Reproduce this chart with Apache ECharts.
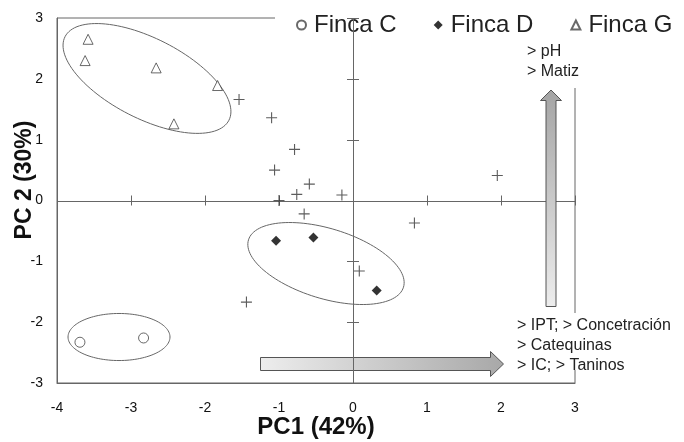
<!DOCTYPE html>
<html><head><meta charset="utf-8">
<script src="https://cdn.jsdelivr.net/npm/echarts@6/dist/echarts.min.js"></script>
<style>html,body{margin:0;padding:0;background:#fff}#c{width:684px;height:442px}</style>
</head><body><div id="c"></div>
<script>
// ---- data ----
const xTicks = [-4, -3, -2, -1, 0, 1, 2, 3];
const yTicks = [-3, -2, -1, 0, 1, 2, 3];
const seriesNames = ['Finca C', 'Finca D', 'Finca G'];
const fincaC = [[-3.69, -2.33], [-2.83, -2.26]];
const fincaD = [[-1.04, -0.66], [-0.535, -0.61], [0.32, -1.48]];
const fincaG = [[-3.58, 2.65], [-3.62, 2.30], [-2.66, 2.18], [-1.83, 1.89], [-2.42, 1.26]];
const otros = [[-1.54, 1.66], [-1.10, 1.36], [-0.79, 0.84], [-1.06, 0.50], [-0.59, 0.27],
  [-0.76, 0.10], [-1.00, 0.00], [-0.15, 0.09], [-0.66, -0.22], [1.95, 0.41],
  [0.83, -0.37], [0.085, -1.16], [-1.44, -1.67]];
// ellipses: centre x, centre y, semi-axis a, semi-axis b (x units), tilt (deg)
const ellipseG = [-2.784, 2.006, 1.243, 0.541, 27];
const ellipseD = [-0.365, -1.036, 1.095, 0.473, 17];
const ellipseC = [-3.162, -2.244, 0.689, 0.318, 0];
const xTitle = 'PC1 (42%)';
const yTitle = 'PC 2 (30%)';
const notesTop = ['> pH', '> Matiz'];
const notesBottom = ['> IPT; > Concetración', '> Catequinas', '> IC; > Taninos'];

const FONT = '"Liberation Sans", Arial, sans-serif';
const LINE = '#666';
const xMin = xTicks[0], xMax = xTicks[xTicks.length - 1];
const yMin = yTicks[0], yMax = yTicks[yTicks.length - 1];
const px = v => Math.round(v) + 0.5;

const chart = echarts.init(document.getElementById('c'));
chart.setOption({
  animation: false,
  grid: { left: 57, right: 109, top: 18, bottom: 59, show: true, borderColor: LINE, borderWidth: 1 },
  xAxis: {
    type: 'value', min: xMin, max: xMax, interval: 1,
    axisLine: { show: true, onZero: false, lineStyle: { color: LINE } },
    axisTick: { show: false }, splitLine: { show: false },
    axisLabel: { margin: 18, fontSize: 14, color: '#111', fontFamily: FONT }
  },
  yAxis: {
    type: 'value', min: yMin, max: yMax, interval: 1,
    axisLine: { show: true, onZero: false, lineStyle: { color: LINE } },
    axisTick: { show: false }, splitLine: { show: false },
    axisLabel: { margin: 14, fontSize: 14, color: '#111', fontFamily: FONT }
  },
  legend: {
    data: seriesNames, left: 275, top: 8, width: 400, padding: [5, 2, 5, 21],
    itemWidth: 9, itemHeight: 9, itemGap: 37, backgroundColor: '#fff',
    selectedMode: false,
    textStyle: { fontSize: 24, color: '#222', fontFamily: FONT, padding: [0, 0, 0, 3] }
  },
  series: [
    { // horizontal zero axis
      type: 'custom', z: 3, silent: true, data: [[xMin, 0, xMax, 0]],
      renderItem(p, api) {
        const a = api.coord([api.value(0), api.value(1)]);
        const b = api.coord([api.value(2), api.value(3)]);
        return { type: 'line', shape: { x1: a[0], y1: px(a[1]), x2: b[0], y2: px(b[1]) }, style: { stroke: LINE, lineWidth: 1 } };
      }
    },
    { // ticks on horizontal zero axis
      type: 'custom', z: 3, silent: true, data: xTicks.map(v => [v, 0]),
      renderItem(p, api) {
        const c = api.coord([api.value(0), api.value(1)]);
        return { type: 'line', shape: { x1: px(c[0]), y1: c[1] - 5, x2: px(c[0]), y2: c[1] + 5 }, style: { stroke: LINE, lineWidth: 1 } };
      }
    },
    { // vertical zero axis (drawn above legend and arrows)
      type: 'custom', z: 10, silent: true, data: [[0, yMin, 0, yMax]],
      renderItem(p, api) {
        const a = api.coord([api.value(0), api.value(1)]);
        const b = api.coord([api.value(2), api.value(3)]);
        return { type: 'line', shape: { x1: px(a[0]), y1: a[1], x2: px(b[0]), y2: b[1] }, style: { stroke: LINE, lineWidth: 1 } };
      }
    },
    { // ticks on vertical zero axis
      type: 'custom', z: 10, silent: true, data: yTicks.map(v => [0, v]),
      renderItem(p, api) {
        const c = api.coord([api.value(0), api.value(1)]);
        return { type: 'line', shape: { x1: c[0] - 6, y1: px(c[1]), x2: c[0] + 6, y2: px(c[1]) }, style: { stroke: LINE, lineWidth: 1 } };
      }
    },
    { // group ellipses
      type: 'custom', z: 1, silent: true, data: [ellipseG, ellipseD, ellipseC],
      renderItem(p, api) {
        const c = api.coord([api.value(0), api.value(1)]);
        const unit = api.size([1, 1])[0];
        const a = api.value(2) * unit, b = api.value(3) * unit, t = api.value(4) * Math.PI / 180;
        const pts = [];
        for (let i = 0; i < 120; i++) {
          const s = i / 120 * 2 * Math.PI, u = a * Math.cos(s), v = b * Math.sin(s);
          pts.push([c[0] + u * Math.cos(t) - v * Math.sin(t), c[1] + u * Math.sin(t) + v * Math.cos(t)]);
        }
        return { type: 'polygon', shape: { points: pts }, style: { fill: 'none', stroke: LINE, lineWidth: 1 } };
      }
    },
    {
      name: 'Finca C', type: 'scatter', data: fincaC, symbol: 'circle', symbolSize: 10, z: 5,
      itemStyle: { color: '#fff', borderColor: '#444', borderWidth: 1 }
    },
    {
      name: 'Finca D', type: 'scatter', data: fincaD, symbol: 'diamond', symbolSize: 10, z: 5,
      itemStyle: { color: '#000' }
    },
    {
      name: 'Finca G', type: 'scatter', data: fincaG, symbol: 'triangle', symbolSize: 10, z: 5,
      itemStyle: { color: '#fff', borderColor: '#444', borderWidth: 1 }
    },
    {
      name: 'Otros', type: 'scatter', data: otros, z: 5,
      symbol: 'path://M0,4.5H10V5.5H0Z M4.5,0H5.5V10H4.5Z', symbolSize: 11,
      itemStyle: { color: '#333' }
    }
  ],
  graphic: [
    { type: 'rect', z: 5, shape: { x: 518, y: 42, width: 72, height: 46 }, style: { fill: '#fff' } },
    { type: 'text', z: 7, x: 527, y: 42, style: { text: notesTop.join('\n'), font: '16px ' + FONT, fill: '#222', lineHeight: 20, align: 'left', verticalAlign: 'top' } },
    { type: 'rect', z: 5, shape: { x: 512, y: 313, width: 172, height: 57 }, style: { fill: '#fff' } },
    { type: 'text', z: 7, x: 517, y: 316, style: { text: notesBottom.join('\n'), font: '16px ' + FONT, fill: '#222', lineHeight: 20, align: 'left', verticalAlign: 'top' } },
    { type: 'polygon', z: 6, shape: { points: [[546, 306.5], [546, 100.5], [540.5, 100.5], [551, 90], [561.5, 100.5], [556, 100.5], [556, 306.5]] },
      style: { stroke: '#555', lineWidth: 1, fill: { type: 'linear', x: 0, y: 0, x2: 0, y2: 1, colorStops: [{ offset: 0, color: '#a4a4a4' }, { offset: 1, color: '#ededed' }] } } },
    { type: 'polygon', z: 6, shape: { points: [[260.5, 357.5], [490.5, 357.5], [490.5, 351.5], [503.5, 364], [490.5, 376.5], [490.5, 370.5], [260.5, 370.5]] },
      style: { stroke: '#555', lineWidth: 1, fill: { type: 'linear', x: 0, y: 0, x2: 1, y2: 0, colorStops: [{ offset: 0, color: '#ededed' }, { offset: 1, color: '#a8a8a8' }] } } },
    { type: 'text', z: 7, x: 316, y: 427, style: { text: xTitle, font: 'bold 24px ' + FONT, fill: '#111', align: 'center', verticalAlign: 'middle' } },
    { type: 'text', z: 7, x: 25, y: 180, rotation: Math.PI / 2, style: { text: yTitle, font: 'bold 23px ' + FONT, fill: '#111', align: 'center', verticalAlign: 'middle' } }
  ]
});
</script></body></html>
